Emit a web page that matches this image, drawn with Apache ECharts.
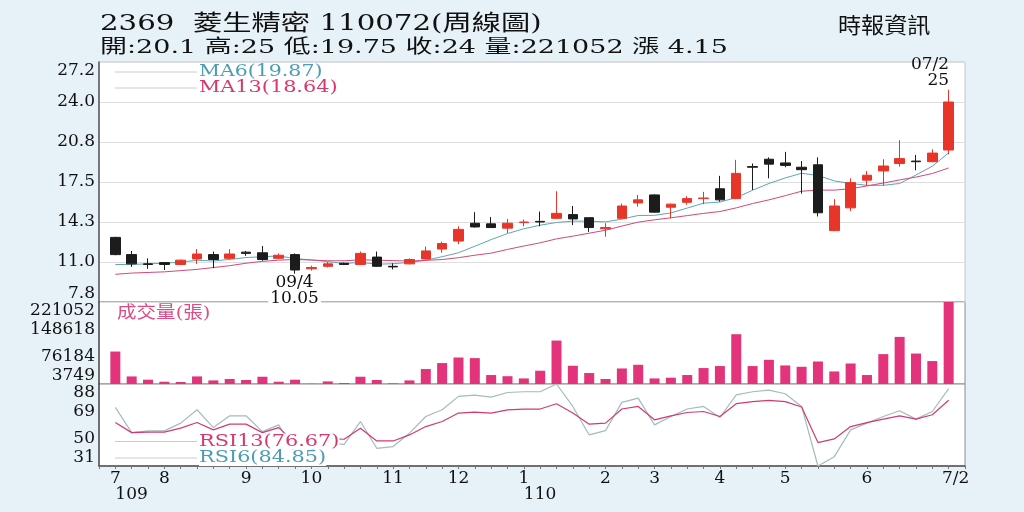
<!DOCTYPE html>
<html>
<head>
<meta charset="utf-8">
<script src="https://cdn.jsdelivr.net/npm/echarts@6/dist/echarts.min.js"></script>
<style>
html, body { margin: 0; padding: 0; background: #e6f2f8; }
#chart { width: 1024px; height: 512px; }
</style>
</head>
<body>
<div id="chart"></div>
<script>
// 2369 菱生精密, weekly candles 109/07 - 110/07/02
const opens  = [13.0, 11.6, 10.85, 10.95, 10.8, 11.25, 11.6, 11.3, 11.8, 11.75, 11.3, 11.6, 10.45, 10.65, 10.9, 10.8, 11.4, 10.65, 10.85, 11.25, 12.05, 12.7, 14.15, 14.1, 13.75, 14.2, 14.3, 14.55, 14.85, 14.6, 13.7, 14.55, 15.8, 16.45, 15.45, 15.85, 16.15, 16.95, 16.15, 18.75, 19.35, 19.05, 18.7, 18.9, 13.55, 15.4, 17.65, 18.4, 19.0, 19.2, 19.15, 20.1];
const closes = [11.6, 10.85, 10.8, 10.8, 11.15, 11.65, 11.2, 11.65, 11.7, 11.2, 11.55, 10.35, 10.55, 10.85, 10.8, 11.7, 10.65, 10.6, 11.2, 11.9, 12.5, 13.65, 13.85, 13.8, 14.15, 14.25, 14.25, 14.95, 14.5, 13.8, 13.8, 15.55, 16.05, 15.05, 15.7, 16.15, 16.2, 16.05, 18.2, 18.7, 18.95, 18.85, 18.5, 15.0, 15.55, 17.45, 18.05, 18.8, 19.4, 19.15, 19.85, 24];
const lows   = [11.55, 10.6, 10.45, 10.35, 10.75, 10.85, 10.5, 11.2, 11.5, 11.1, 11.25, 10.05, 10.3, 10.55, 10.75, 10.75, 10.6, 10.4, 10.8, 11.2, 11.75, 12.45, 13.8, 13.8, 13.35, 13.9, 13.9, 14.5, 14.0, 13.45, 13.05, 14.5, 15.5, 15.0, 14.55, 15.65, 15.7, 15.9, 16.1, 16.85, 17.8, 18.7, 16.55, 14.7, 13.5, 15.15, 17.2, 17.2, 18.75, 18.45, 19.1, 19.75];
const highs  = [13.05, 11.9, 11.3, 10.95, 11.2, 12.05, 11.85, 12.05, 11.9, 12.3, 11.7, 11.7, 10.7, 11.0, 10.95, 11.85, 11.85, 10.9, 11.3, 12.25, 12.65, 13.9, 15.05, 14.65, 14.5, 14.45, 15.1, 16.75, 15.55, 14.6, 14.15, 15.75, 16.45, 16.5, 15.75, 16.35, 16.7, 18.0, 19.3, 19.0, 19.5, 19.95, 19.2, 19.5, 16.1, 17.8, 18.4, 19.35, 20.9, 19.7, 20.15, 25];
const volumes = [89800, 23800, 15100, 9800, 9000, 23800, 13300, 17000, 14300, 23000, 9800, 15100, 4200, 10600, 6400, 23000, 14300, 5300, 13300, 43400, 59200, 74000, 72400, 27500, 24400, 18500, 38900, 118900, 52100, 32800, 17000, 44900, 54700, 18500, 20400, 27500, 46000, 51300, 135700, 51300, 67900, 52900, 49400, 63400, 37000, 58100, 27500, 82900, 128600, 84500, 64500, 221052];
const ma6  = [10.8, 10.8, 10.85, 10.9, 11.0, 11.14, 11.08, 11.21, 11.36, 11.43, 11.49, 11.28, 11.17, 11.03, 10.88, 10.97, 10.82, 10.86, 10.97, 11.14, 11.43, 11.75, 12.28, 12.82, 13.31, 13.7, 13.99, 14.21, 14.32, 14.32, 14.26, 14.48, 14.78, 14.79, 14.99, 15.38, 15.78, 15.87, 16.23, 16.83, 17.38, 17.83, 18.21, 18.03, 17.59, 17.38, 17.23, 17.23, 17.38, 18.07, 18.78, 19.87];
const ma13 = [10.0, 10.1, 10.15, 10.2, 10.3, 10.4, 10.55, 10.7, 10.9, 11.05, 11.15, 11.2, 11.16, 11.1, 11.1, 11.17, 11.15, 11.11, 11.08, 11.13, 11.2, 11.35, 11.55, 11.72, 12.02, 12.3, 12.56, 12.88, 13.1, 13.34, 13.58, 13.92, 14.24, 14.43, 14.59, 14.77, 14.95, 15.1, 15.4, 15.75, 16.05, 16.39, 16.75, 16.84, 16.84, 16.95, 17.18, 17.42, 17.67, 17.9, 18.19, 18.64];
const rsi6  = [71.7, 54.2, 55.4, 55.4, 60.8, 70.1, 57.7, 65.9, 65.9, 54.9, 59.6, 40, 42, 47, 46.1, 61.9, 43.3, 44.5, 53.8, 65.4, 70.1, 79.4, 80.3, 78.9, 82.1, 82.6, 82.6, 88, 72.4, 52.6, 55.6, 75.2, 78.2, 59.6, 65.4, 70.6, 72.4, 64.7, 80.5, 82.6, 83.8, 81.2, 72.4, 31, 37.5, 56.1, 60.8, 65.4, 69.4, 63.6, 68.9, 84.85];
const rsi13 = [61.2, 54.2, 54.5, 54.5, 57.3, 61.2, 56.1, 60.1, 60.1, 54.2, 57.7, 47, 48, 50, 49.6, 57.3, 48.4, 48.4, 52.6, 58.4, 61.9, 67.8, 68.5, 67.8, 70, 70.6, 70.6, 74.3, 67.8, 60.1, 60.8, 70.6, 72.4, 63.1, 65.9, 68.2, 68.9, 65.4, 74.3, 75.7, 76.6, 75.7, 72, 47.3, 49.8, 58.4, 61.2, 63.6, 65.9, 63.6, 66.6, 76.67];

const monthIdx = [0, 3, 8, 12, 17, 21, 25, 30, 33, 37, 41, 46, 51];
const monthLabels = ['7', '8', '9', '10', '11', '12', '1', '2', '3', '4', '5', '6', '7/2'];
const yearIdx = [0, 25];
const yearLabels = ['109', '110'];
const priceTicks = ['7.8', '11.0', '14.3', '17.5', '20.8', '24.0', '27.2'];
const volTicks = [3749, 76184, 148618, 221052];
const rsiTicks = [31, 50, 69, 88];
const lowDate = '09/4';
const highDate = '07/2';

const serif = '"DejaVu Serif", "Noto Sans CJK TC", serif';
const upColor = '#e8352a';
const downColor = '#1c1c1c';
const ma6Color = '#5ea6b8';
const ma13Color = '#d24a78';
const rsi6Color = '#a3bcbc';
const rsi13Color = '#d03c72';
const textTeal = '#4a9db3';
const textPink = '#d8366f';

const n = closes.length;
const last = n - 1;
// one empty slot each side so the first and last week sit inside the frame
const cats = Array.from({ length: n + 2 }, (_, i) => String(i));
const pad = arr => ['-', ...arr, '-'];
const weekLabel = idx => { const k = monthIdx.indexOf(idx - 1); return k >= 0 ? monthLabels[k] : ''; };
const yearLabel = idx => { const k = yearIdx.indexOf(idx - 1); return k >= 0 ? yearLabels[k] : ''; };

const kData = [['-', '-', '-', '-'], ...opens.map((o, i) => [o, closes[i], lows[i], highs[i]]), ['-', '-', '-', '-']];
const hiIdx = highs.indexOf(Math.max(...highs));
const loIdx = lows.indexOf(Math.min(...lows));

const priceMin = 7.75, priceStep = 3.25;
const volStep = (volTicks[3] - volTicks[0]) / 3;

const headline = `開:${opens[last]} 高:${highs[last]} 低:${lows[last]} 收:${closes[last]} 量:${volumes[last]} 漲 ${(closes[last] - closes[last - 1]).toFixed(2)}`;

const axisFont = { fontFamily: serif, fontSize: 17, color: '#111' };
const frame = { left: 99, right: 59, show: true, backgroundColor: '#fff', borderWidth: 1 };

const hiddenX = gi => ({ type: 'category', gridIndex: gi, data: cats, boundaryGap: false, show: false });

const txt = (x, y, text, color, size, sx, extra = {}) => ({
    type: 'text', x, y, scaleX: sx, z: 20,
    style: { text, fill: color, font: `${size}px ${serif}`, align: 'left', verticalAlign: 'middle', ...extra }
});
const stub = y => ({
    type: 'line', z: 20, shape: { x1: 115, y1: y, x2: 197, y2: y },
    style: { stroke: '#cccccc', lineWidth: 1 }
});

const chart = echarts.init(document.getElementById('chart'), null, { renderer: 'canvas' });

chart.setOption({
    backgroundColor: '#e6f2f8',
    animation: false,
    grid: [
        { ...frame, top: 62, height: 240, borderColor: '#c4c4c4' },
        { ...frame, top: 302, height: 82, borderColor: '#8a8a8a' },
        { ...frame, top: 384, height: 82, borderColor: '#8a8a8a' }
    ],
    xAxis: [
        hiddenX(0),
        hiddenX(1),
        {
            type: 'category', gridIndex: 2, data: cats, boundaryGap: false,
            axisLine: { lineStyle: { color: '#555', width: 1.5 } },
            axisTick: { show: true, interval: 0, length: 3, lineStyle: { color: '#777' } },
            splitLine: { show: false },
            axisLabel: {
                ...axisFont, margin: 4,
                interval: i => weekLabel(i) !== '',
                formatter: (v, i) => (i - 1 === last ? `{e|${weekLabel(i)}}` : weekLabel(i)),
                rich: { e: { ...axisFont, padding: [0, 0, 0, 14] } }
            }
        },
        {
            type: 'category', gridIndex: 2, data: cats, boundaryGap: false,
            position: 'bottom', offset: 16,
            axisLine: { show: false }, axisTick: { show: false }, splitLine: { show: false },
            axisLabel: {
                ...axisFont, margin: 4, align: 'left',
                interval: i => yearLabel(i) !== '',
                formatter: (v, i) => yearLabel(i)
            }
        }
    ],
    yAxis: [
        {
            type: 'value', gridIndex: 0, min: priceMin, max: priceMin + priceStep * 6, interval: priceStep,
            axisLine: { show: true, lineStyle: { color: '#555', width: 1.5 } },
            axisTick: { show: false },
            splitLine: { show: true, lineStyle: { color: '#dedede' } },
            axisLabel: {
                ...axisFont, margin: 4,
                formatter: v => priceTicks[Math.round((v - priceMin) / priceStep)],
                verticalAlignMinLabel: 'bottom', verticalAlignMaxLabel: 'top'
            }
        },
        {
            type: 'value', gridIndex: 1, min: volTicks[0], max: volTicks[3], interval: volStep,
            axisLine: { show: true, lineStyle: { color: '#555', width: 1.5 } },
            axisTick: { show: false }, splitLine: { show: false },
            axisLabel: {
                ...axisFont, margin: 4,
                formatter: v => String(volTicks[Math.round((v - volTicks[0]) / volStep)]),
                verticalAlignMinLabel: 'bottom', verticalAlignMaxLabel: 'top'
            }
        },
        {
            type: 'value', gridIndex: 2, min: rsiTicks[0], max: rsiTicks[3], interval: rsiTicks[1] - rsiTicks[0],
            axisLine: { show: true, lineStyle: { color: '#555', width: 1.5 } },
            axisTick: { show: false }, splitLine: { show: false },
            axisLabel: {
                ...axisFont, margin: 4,
                verticalAlignMinLabel: 'bottom', verticalAlignMaxLabel: 'top'
            }
        }
    ],
    series: [
        {
            type: 'candlestick', xAxisIndex: 0, yAxisIndex: 0, z: 4,
            data: kData, barWidth: 10,
            itemStyle: { color: upColor, color0: downColor, borderColor: upColor, borderColor0: downColor, borderWidth: 1 },
            markPoint: {
                symbol: 'circle', symbolSize: 1,
                itemStyle: { color: 'rgba(0,0,0,0)' },
                label: { fontFamily: serif, fontSize: 17, lineHeight: 16, color: '#111' },
                data: [
                    {
                        coord: [cats[hiIdx + 1], highs[hiIdx]],
                        label: { formatter: `${highDate}\n${highs[hiIdx]}`, position: [1, -1], align: 'right', verticalAlign: 'bottom' }
                    },
                    {
                        coord: [cats[loIdx + 1], lows[loIdx]],
                        label: {
                            formatter: `${lowDate}\n${lows[loIdx]}`, position: [0, 1], align: 'center', verticalAlign: 'top',
                            backgroundColor: '#fff', padding: [0, 2]
                        }
                    }
                ]
            }
        },
        {
            type: 'line', name: 'MA6', xAxisIndex: 0, yAxisIndex: 0, z: 2,
            data: pad(ma6), symbol: 'none', lineStyle: { color: ma6Color, width: 1 }
        },
        {
            type: 'line', name: 'MA13', xAxisIndex: 0, yAxisIndex: 0, z: 2,
            data: pad(ma13), symbol: 'none', lineStyle: { color: ma13Color, width: 1 }
        },
        {
            type: 'bar', name: '成交量', xAxisIndex: 1, yAxisIndex: 1, clip: true,
            data: pad(volumes), barWidth: 10, itemStyle: { color: '#e3337b' }
        },
        {
            type: 'line', name: 'RSI6', xAxisIndex: 2, yAxisIndex: 2, z: 2,
            data: pad(rsi6), symbol: 'none', lineStyle: { color: rsi6Color, width: 1.2 }
        },
        {
            type: 'line', name: 'RSI13', xAxisIndex: 2, yAxisIndex: 2, z: 3,
            data: pad(rsi13), symbol: 'none', lineStyle: { color: rsi13Color, width: 1.2 }
        }
    ],
    graphic: [
        txt(100, 24, '2369  菱生精密 110072(周線圖)', '#111', 22, 1.33),
        txt(100, 48, headline, '#111', 19, 1.42),
        txt(838, 27, '時報資訊', '#111', 22, 1.05),
        stub(72), txt(199, 72, `MA6(${ma6[last]})`, textTeal, 16, 1.28),
        stub(88), txt(199, 88, `MA13(${ma13[last]})`, textPink, 16, 1.3),
        txt(117, 314, '成交量(張)', '#e04a85', 17, 1.15),
        stub(441.5), txt(199, 441.5, `RSI13(${rsi13[last]})`, textPink, 16, 1.3, { backgroundColor: '#fff' }),
        stub(458), txt(199, 458, `RSI6(${rsi6[last]})`, textTeal, 16, 1.3, { backgroundColor: '#fff' })
    ]
});
</script>
</body>
</html>
